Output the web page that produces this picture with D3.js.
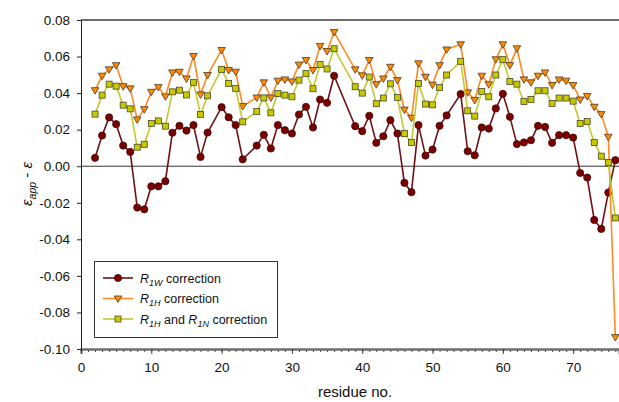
<!DOCTYPE html>
<html>
<head>
<meta charset="utf-8">
<script src="https://cdn.jsdelivr.net/npm/d3@7"></script>
<style>
  html, body { margin: 0; padding: 0; background: #fff; }
  svg { display: block; font-family: "Liberation Sans", Arial, sans-serif; }
</style>
</head>
<body>
<svg id="chart" width="619" height="402"></svg>
<script>
// residue numbers with data (gaps are residues without a value)
const residues = [2,3,4,5,6,7,8,9,10,11,12,13,14,15,16,17,18,20,21,22,23,25,26,27,28,29,30,31,32,33,34,35,36,
  39,40,41,42,43,44,45,46,47,48,49,50,51,52,54,55,56,57,58,59,60,61,62,63,64,65,66,67,68,69,70,71,72,73,74,75,76];

// R1W correction
const r1w = [0.0046,0.0168,0.0267,0.0230,0.0113,0.0078,-0.0226,-0.0236,-0.0110,-0.0110,-0.0082,0.0183,0.0221,0.0195,0.0225,0.0051,0.0184,
  0.0323,0.0268,0.0225,0.0038,0.0113,0.0172,0.0097,0.0225,0.0197,0.0179,0.0283,0.0325,0.0212,0.0365,0.0347,0.0495,
  0.0219,0.0192,0.0276,0.0128,0.0164,0.0252,0.0179,-0.0091,-0.0142,0.0225,0.0058,0.0091,0.0221,0.0278,
  0.0395,0.0082,0.0060,0.0212,0.0206,0.0316,0.0396,0.0270,0.0121,0.0130,0.0142,0.0221,0.0215,0.0128,0.0170,0.0170,0.0157,
  -0.0037,-0.0062,-0.0294,-0.0343,-0.0144,0.0033];

// R1H correction
const r1h = [0.0416,0.0495,0.0530,0.0553,0.0438,0.0426,0.0256,0.0312,0.0407,0.0433,0.0382,0.0513,0.0517,0.0480,0.0603,0.0393,0.0499,
  0.0636,0.0526,0.0517,0.0329,0.0376,0.0459,0.0376,0.0468,0.0475,0.0464,0.0556,0.0581,0.0526,0.0658,0.0630,0.0734,
  0.0530,0.0497,0.0581,0.0449,0.0480,0.0544,0.0471,0.0310,0.0265,0.0563,0.0489,0.0446,0.0553,0.0639,
  0.0667,0.0404,0.0362,0.0495,0.0448,0.0585,0.0667,0.0553,0.0645,0.0475,0.0459,0.0495,0.0513,0.0444,0.0475,0.0468,0.0444,
  0.0365,0.0384,0.0325,0.0285,0.0161,-0.0935];

// R1H and R1N correction
const r1hn = [0.0285,0.0389,0.0449,0.0438,0.0334,0.0314,0.0104,0.0120,0.0234,0.0248,0.0219,0.0407,0.0416,0.0390,0.0459,0.0283,0.0385,
  0.0530,0.0453,0.0426,0.0243,0.0300,0.0374,0.0292,0.0398,0.0389,0.0380,0.0471,0.0508,0.0424,0.0557,0.0532,0.0643,
  0.0435,0.0400,0.0488,0.0342,0.0373,0.0451,0.0376,0.0179,0.0130,0.0453,0.0340,0.0336,0.0431,0.0499,
  0.0574,0.0303,0.0274,0.0409,0.0380,0.0499,0.0583,0.0464,0.0449,0.0354,0.0365,0.0413,0.0413,0.0343,0.0373,0.0373,0.0356,
  0.0234,0.0245,0.0130,0.0055,0.0020,-0.0283];

const xMajorTicks = [0,10,20,30,40,50,60,70];
const yTicks = [-0.10,-0.08,-0.06,-0.04,-0.02,0.00,0.02,0.04,0.06,0.08];

const svg = d3.select("#chart");
const plotLeft = 81, plotRight = 619, plotTop = 20, plotBottom = 349;

const x = d3.scaleLinear().domain([0, 76.52]).range([plotLeft, plotRight]);
const y = d3.scaleLinear().domain([-0.10, 0.08]).range([plotBottom, plotTop]);

// zero reference line
svg.append("line")
  .attr("x1", plotLeft).attr("x2", plotRight)
  .attr("y1", y(0)).attr("y2", y(0))
  .attr("stroke", "#333").attr("stroke-width", 1);

// top frame
svg.append("line")
  .attr("x1", plotLeft).attr("x2", plotRight)
  .attr("y1", plotTop).attr("y2", plotTop)
  .attr("stroke", "#6e6e6e").attr("stroke-width", 2);

// x axis: minor ticks every residue, labelled major ticks every 10
const gxMinor = svg.append("g").attr("transform", `translate(0,${plotBottom})`)
  .call(d3.axisBottom(x).tickValues(d3.range(0, 77)).tickSize(3).tickFormat(""));
const gx = svg.append("g").attr("transform", `translate(0,${plotBottom})`)
  .call(d3.axisBottom(x).tickValues(xMajorTicks).tickSize(5).tickPadding(8).tickFormat(d3.format("d")));
[gxMinor, gx].forEach(g => {
  g.select(".domain").attr("stroke", "#6e6e6e").attr("stroke-width", 2);
  g.selectAll(".tick line").attr("stroke", "#444");
});
gx.selectAll("text").attr("font-size", 13.5).attr("fill", "#111")
  .attr("font-family", "Liberation Sans, Arial, sans-serif");

// y axis
const gy = svg.append("g").attr("transform", `translate(${plotLeft},0)`)
  .call(d3.axisLeft(y).tickValues(yTicks).tickSize(4).tickPadding(7)
    .tickFormat(d => (Math.abs(d) < 1e-9 ? 0 : d).toFixed(2)));
gy.select(".domain").attr("stroke", "#222").attr("stroke-width", 1);
gy.selectAll(".tick line").attr("stroke", "#222");
gy.selectAll("text").attr("font-size", 13.5).attr("fill", "#111")
  .attr("font-family", "Liberation Sans, Arial, sans-serif");

// axis titles
svg.append("text")
  .attr("x", 355).attr("y", 397)
  .attr("text-anchor", "middle")
  .attr("font-size", 15).attr("fill", "#111")
  .text("residue no.");

const yTitle = svg.append("text")
  .attr("transform", "translate(32,184) rotate(-90)")
  .attr("text-anchor", "middle")
  .attr("font-size", 15).attr("fill", "#111");
yTitle.append("tspan").attr("font-style", "italic").text("ε");
yTitle.append("tspan").attr("font-style", "italic").attr("font-size", 10.5).attr("dy", 4).text("app");
yTitle.append("tspan").attr("dy", -4).text(" - ");
yTitle.append("tspan").attr("font-style", "italic").text("ε");

// series definitions
const series = [
  { values: r1w,  line: "#6e1016", fill: "#7d0000", stroke: "#3c0a0a", shape: "circle" },
  { values: r1h,  line: "#ff8a24", fill: "#ff8c00", stroke: "#4a3a2a", shape: "triangle" },
  { values: r1hn, line: "#c4c832", fill: "#c9c900", stroke: "#4a4a2a", shape: "square" }
];

const lineGen = d3.line().x(d => x(d.r)).y(d => y(d.v));

function drawMarker(g, shape, cx, cy, s) {
  if (shape === "circle") {
    g.append("circle").attr("cx", cx).attr("cy", cy).attr("r", 3.6)
      .attr("fill", s.fill).attr("stroke", s.stroke).attr("stroke-width", 0.8);
  } else if (shape === "triangle") {
    const h = 3.6;
    g.append("path")
      .attr("d", `M${cx - 3.8},${cy - h * 0.7}L${cx + 3.8},${cy - h * 0.7}L${cx},${cy + h * 1.1}Z`)
      .attr("fill", s.fill).attr("stroke", s.stroke).attr("stroke-width", 0.8);
  } else {
    g.append("rect").attr("x", cx - 3).attr("y", cy - 3).attr("width", 6).attr("height", 6)
      .attr("fill", s.fill).attr("stroke", s.stroke).attr("stroke-width", 0.8);
  }
}

series.forEach(s => {
  const pts = residues.map((r, i) => ({ r, v: s.values[i] }));
  svg.append("path").datum(pts)
    .attr("d", lineGen)
    .attr("fill", "none").attr("stroke", s.line).attr("stroke-width", 1.6);
  const g = svg.append("g");
  pts.forEach(p => drawMarker(g, s.shape, x(p.r), y(p.v), s));
});

// legend
const lg = svg.append("g");
lg.append("rect").attr("x", 94.5).attr("y", 261.5).attr("width", 183).attr("height", 76)
  .attr("fill", "#fff").attr("stroke", "#333").attr("stroke-width", 1);

const legendLabels = [
  [["R", "i"], ["1W", "is"], [" correction", "n"]],
  [["R", "i"], ["1H", "is"], [" correction", "n"]],
  [["R", "i"], ["1H", "is"], [" and ", "n"], ["R", "i"], ["1N", "is"], [" correction", "n"]]
];
const rowY = [278, 298.5, 319];

series.forEach((s, i) => {
  const yy = rowY[i];
  lg.append("line").attr("x1", 103).attr("x2", 133).attr("y1", yy).attr("y2", yy)
    .attr("stroke", s.line).attr("stroke-width", 1.6);
  drawMarker(lg, s.shape, 118, yy, s);
  const t = lg.append("text").attr("x", 140).attr("y", yy + 4.5)
    .attr("font-size", 12.5).attr("fill", "#111");
  let sub = false;
  legendLabels[i].forEach(([txt, kind]) => {
    const ts = t.append("tspan").text(txt);
    if (kind === "i" || kind === "is") ts.attr("font-style", "italic");
    if (kind === "is") {
      ts.attr("font-size", 9).attr("dy", sub ? 0 : 3);
      sub = true;
    } else if (sub) {
      ts.attr("dy", -3);
      sub = false;
    }
  });
});
</script>
</body>
</html>
